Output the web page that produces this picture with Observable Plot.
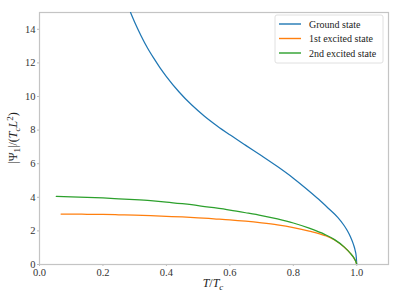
<!DOCTYPE html>
<html><head><meta charset="utf-8">
<script src="https://cdn.jsdelivr.net/npm/d3@7"></script>
<script src="https://cdn.jsdelivr.net/npm/@observablehq/plot@0.6"></script>
<style>
html,body{margin:0;padding:0;background:#fff;}
#chart{width:416px;height:293px;}
#chart svg, #chart svg text{font-family:'Liberation Serif','Times New Roman','DejaVu Serif',serif !important;}
</style>
</head><body><div id="chart"></div>
<script>
const seriesNames = ["Ground state", "1st excited state", "2nd excited state"];
const seriesColors = ["#1f77b4", "#ff7f0e", "#2ca02c"];

const groundT = [0.287,0.30,0.32,0.34,0.36,0.38,0.40,0.44,0.48,0.52,0.56,0.60,0.65,0.70,0.75,0.80,0.84,0.88,0.91,0.94,0.96,0.97,0.98,0.99,0.995,0.998,1.0];
const groundV = [15.0,14.42,13.62,12.90,12.28,11.71,11.19,10.27,9.49,8.83,8.25,7.72,7.09,6.47,5.83,5.14,4.53,3.88,3.35,2.80,2.32,2.02,1.65,1.17,0.83,0.52,0.0];

const firstT = [0.068,0.10,0.15,0.20,0.25,0.30,0.35,0.40,0.45,0.50,0.55,0.60,0.65,0.70,0.75,0.80,0.85,0.90,0.93,0.96,0.98,0.99,0.996,1.0];
const firstV = [3.00,3.00,2.99,2.98,2.96,2.94,2.91,2.87,2.83,2.78,2.72,2.66,2.58,2.48,2.36,2.20,1.99,1.72,1.46,1.04,0.66,0.42,0.22,0.0];

const secondT = [0.053,0.10,0.15,0.20,0.25,0.30,0.35,0.40,0.45,0.50,0.55,0.60,0.65,0.70,0.75,0.80,0.85,0.90,0.93,0.96,0.98,0.99,0.996,1.0];
const secondV = [4.05,4.03,4.00,3.96,3.91,3.86,3.80,3.72,3.62,3.51,3.38,3.24,3.08,2.91,2.71,2.47,2.16,1.78,1.48,1.05,0.66,0.42,0.22,0.0];

const xTicks = [0.0,0.2,0.4,0.6,0.8,1.0];
const yTicks = [0,2,4,6,8,10,12,14];

const rows = [];
[[groundT,groundV],[firstT,firstV],[secondT,secondV]].forEach(([ts,vs],i)=>{
  ts.forEach((t,j)=>rows.push({series: seriesNames[i], t, v: vs[j]}));
});

const serif = "'Liberation Serif','Times New Roman','DejaVu Serif',serif";

const plot = Plot.plot({
  width: 416, height: 293,
  marginLeft: 39, marginRight: 28, marginTop: 12, marginBottom: 29,
  style: {fontFamily: serif, fontSize: "10.5px", background: "#fff", color: "#333"},
  x: {domain: [0, 1.1], label: null},
  y: {domain: [0, 15], label: null},
  color: {domain: seriesNames, range: seriesColors},
  marks: [
    Plot.axisX({ticks: xTicks, tickFormat: d3.format(".1f"), tickSize: 2, tickPadding: 2, label: null, fontFamily: serif, fontSize: 10.5, stroke: "#bbb", fill: "#333"}),
    Plot.axisY({ticks: yTicks, tickSize: 2, tickPadding: 2, label: null, fontFamily: serif, fontSize: 10.5, stroke: "#bbb", fill: "#333"}),
    Plot.frame({stroke: "#c4c4c4", strokeWidth: 1.2}),
    Plot.line(rows, {x: "t", y: "v", z: "series", stroke: "series", strokeWidth: 1.25, curve: "monotone-x", clip: true})
  ]
});
document.getElementById("chart").appendChild(plot);

const svg = d3.select(plot);
// x label
const xl = svg.append("text").attr("x", 213).attr("y", 287).attr("text-anchor","middle")
  .attr("font-family", serif).attr("font-size", 12).attr("fill","#222");
xl.append("tspan").attr("font-style","italic").text("T");
xl.append("tspan").text("/");
xl.append("tspan").attr("font-style","italic").text("T");
xl.append("tspan").attr("font-style","italic").attr("font-size",9).attr("dy",3).text("c");

// y label
const yl = svg.append("text").attr("transform","translate(17,138) rotate(-90)").attr("text-anchor","middle")
  .attr("font-family", serif).attr("font-size", 12).attr("fill","#222");
yl.append("tspan").text("|Ψ");
yl.append("tspan").attr("font-size",9).attr("dy",3).text("1");
yl.append("tspan").attr("dy",-3).text("|/(");
yl.append("tspan").attr("font-style","italic").text("T");
yl.append("tspan").attr("font-style","italic").attr("font-size",9).attr("dy",3).text("c");
yl.append("tspan").attr("font-style","italic").attr("dy",-3).text("L");
yl.append("tspan").attr("font-size",9).attr("dy",-4).text("2");
yl.append("tspan").attr("dy",4).text(")");

// legend
const lg = svg.append("g");
lg.append("rect").attr("x",275).attr("y",15).attr("width",108).attr("height",48).attr("rx",2)
  .attr("fill","#fff").attr("stroke","#e0e0e0");
seriesNames.forEach((name,i)=>{
  const y = 24 + i*14.5;
  lg.append("line").attr("x1",279).attr("x2",301).attr("y1",y).attr("y2",y)
    .attr("stroke",seriesColors[i]).attr("stroke-width",1.4);
  lg.append("text").attr("x",309).attr("y",y+3.5).attr("text-anchor","start")
    .attr("font-family",serif).attr("font-size",10)
    .attr("fill","#222").text(name);
});
</script>
</body></html>
